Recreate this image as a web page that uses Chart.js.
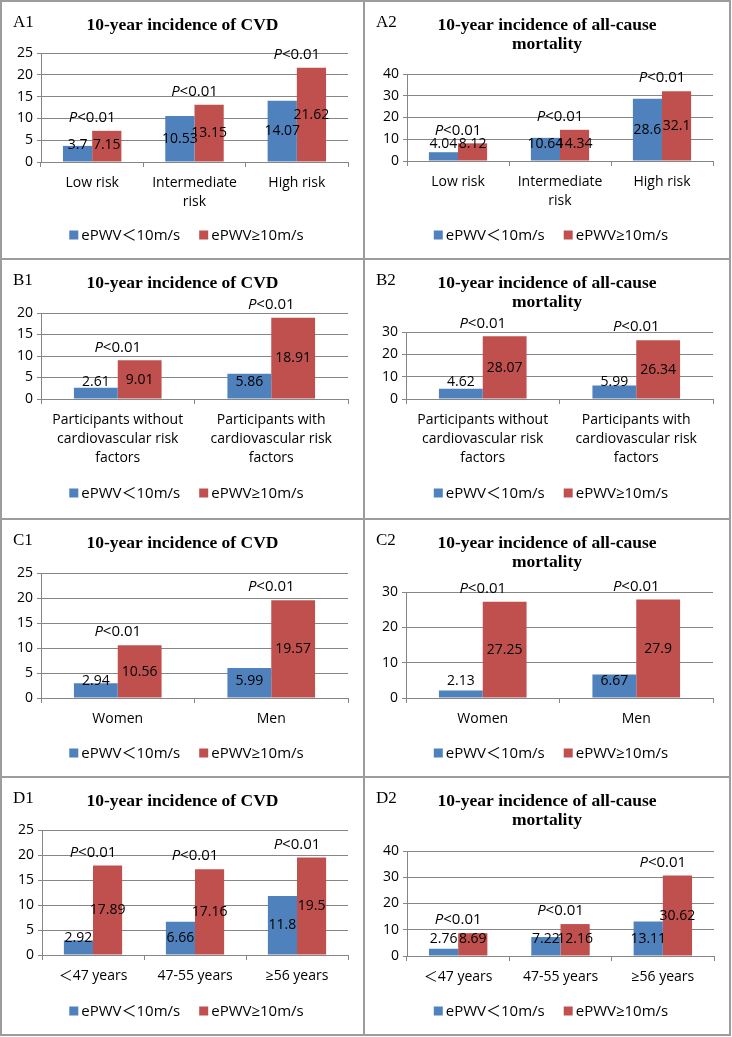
<!DOCTYPE html>
<html>
<head>
<meta charset="utf-8">
<script src="https://cdn.jsdelivr.net/npm/chart.js@4.4.1/dist/chart.umd.min.js"></script>
<style>
  body { margin: 0; background: #fff; }
  #fig { position: relative; width: 732px; height: 1037px; }
  .cell { position: absolute; }
  .line { position: absolute; background: #9c9c9c; }
</style>
</head>
<body>
<div id="fig"></div>
<script>
// series + categories
const seriesNames = ["ePWV＜10m/s", "ePWV≥10m/s"];
const riskGroups = [["Low risk"], ["Intermediate", "risk"], ["High risk"]];
const factorGroups = [
  ["Participants without", "cardiovascular risk", "factors"],
  ["Participants with", "cardiovascular risk", "factors"],
];
const sexGroups = ["Women", "Men"];
const ageGroups = ["＜47 years", "47-55 years", "≥56 years"];

const a1Low = [3.7, 10.53, 14.07];
const a1High = [7.15, 13.15, 21.62];
const a2Low = [4.04, 10.64, 28.6];
const a2High = [8.12, 14.34, 32.1];
const b1Low = [2.61, 5.86];
const b1High = [9.01, 18.91];
const b2Low = [4.62, 5.99];
const b2High = [28.07, 26.34];
const c1Low = [2.94, 5.99];
const c1High = [10.56, 19.57];
const c2Low = [2.13, 6.67];
const c2High = [27.25, 27.9];
const d1Low = [2.92, 6.66, 11.8];
const d1High = [17.89, 17.16, 19.5];
const d2Low = [2.76, 7.22, 13.11];
const d2High = [8.69, 12.16, 30.62];

const cvdTitle = ["10-year incidence of CVD"];
const mortTitle = ["10-year incidence of all-cause", "mortality"];
const pText = "<0.01";

const cvdMax = 25, cvdStep = 5;

const blue = "#4f81bd";
const red = "#c0504d";
const gridColor = "#868686";
const sans = "'Open Sans', 'Noto Sans CJK SC', sans-serif";
const serif = "'Liberation Serif', 'DejaVu Serif', serif";

// layout of the 8 panels (page pixels)
const colL = { x: 2, w: 361 };
const colR = { x: 365, w: 364 };
const rows = [{ y: 2, h: 256 }, { y: 260, h: 256 }, { y: 520, h: 256 }, { y: 778, h: 256 }];

const panels = [
  { tag: "A1", title: cvdTitle, labels: riskGroups, low: a1Low, high: a1High, max: cvdMax, step: cvdStep,
    col: colL, row: rows[0], plot: [41, 348, 53, 162] },
  { tag: "A2", title: mortTitle, labels: riskGroups, low: a2Low, high: a2High, max: 40, step: 10,
    col: colR, row: rows[0], plot: [407, 713, 74, 161] },
  { tag: "B1", title: cvdTitle, labels: factorGroups, low: b1Low, high: b1High, max: 20, step: 5,
    col: colL, row: rows[1], plot: [41, 348, 313, 399] },
  { tag: "B2", title: mortTitle, labels: factorGroups, low: b2Low, high: b2High, max: 30, step: 10,
    col: colR, row: rows[1], plot: [406, 713, 332, 399] },
  { tag: "C1", title: cvdTitle, labels: sexGroups, low: c1Low, high: c1High, max: cvdMax, step: cvdStep,
    col: colL, row: rows[2], plot: [41, 348, 573, 698] },
  { tag: "C2", title: mortTitle, labels: sexGroups, low: c2Low, high: c2High, max: 30, step: 10,
    col: colR, row: rows[2], plot: [406, 713, 592, 698] },
  { tag: "D1", title: cvdTitle, labels: ageGroups, low: d1Low, high: d1High, max: cvdMax, step: cvdStep,
    col: colL, row: rows[3], plot: [42, 348, 830, 955] },
  { tag: "D2", title: mortTitle, labels: ageGroups, low: d2Low, high: d2High, max: 40, step: 10,
    col: colR, row: rows[3], plot: [407, 714, 851, 956] },
];

const fig = document.getElementById("fig");

// frame lines
function addLine(x, y, w, h) {
  const d = document.createElement("div");
  d.className = "line";
  d.style.left = x + "px"; d.style.top = y + "px";
  d.style.width = w + "px"; d.style.height = h + "px";
  fig.appendChild(d);
}
[0, 258, 518, 776, 1034].forEach((y) => addLine(0, y, 731, 2));
[0, 363, 729].forEach((x) => addLine(x, 0, 2, 1036));

// titles, tags, value labels, P values and legend
const panelText = {
  id: "panelText",
  afterDatasetsDraw(chart, args, opts) {
    const ctx = chart.ctx;
    const p = opts.panel;
    const base = chart.scales.y.getPixelForValue(0);
    const lowMeta = chart.getDatasetMeta(0);
    const highMeta = chart.getDatasetMeta(1);
    ctx.save();
    ctx.fillStyle = "#000";
    ctx.textBaseline = "middle";

    ctx.font = "17px " + serif;
    ctx.textAlign = "left";
    ctx.fillText(p.tag, 11, 21);

    ctx.font = "bold 17.5px " + serif;
    ctx.textAlign = "center";
    p.title.forEach((t, i) => ctx.fillText(t, chart.width / 2, 23 + i * 19.5));

    // value labels, centred in the bar but kept clear of the axis
    ctx.font = "14px " + sans;
    [lowMeta, highMeta].forEach((meta, di) => {
      meta.data.forEach((bar, j) => {
        const v = chart.data.datasets[di].data[j];
        const y = Math.min((bar.y + base) / 2, base - 17);
        ctx.fillText(String(v), bar.x, y);
      });
    });

    // P<0.01 above each group
    lowMeta.data.forEach((bar, j) => {
      const other = highMeta.data[j];
      const cx = (bar.x + other.x) / 2;
      const cy = Math.min(bar.y, other.y) - 13;
      ctx.font = "italic 15px " + sans;
      const wP = ctx.measureText("P").width;
      ctx.font = "15px " + sans;
      const wR = ctx.measureText(pText).width;
      const x0 = cx - (wP + wR) / 2;
      ctx.textAlign = "left";
      ctx.font = "italic 15px " + sans;
      ctx.fillText("P", x0, cy);
      ctx.font = "15px " + sans;
      ctx.fillText(pText, x0 + wP, cy);
    });

    // legend
    ctx.font = "15px " + sans;
    ctx.textAlign = "left";
    const box = 9, gap = 3, spacing = 19;
    const widths = chart.data.datasets.map((ds) => box + gap + ctx.measureText(ds.label).width);
    const total = widths.reduce((a, b) => a + b, 0) + spacing * (widths.length - 1);
    let x = chart.width / 2 + 4 - total / 2;
    const ly = 233;
    chart.data.datasets.forEach((ds, i) => {
      ctx.fillStyle = ds.backgroundColor;
      ctx.fillRect(x, ly - box / 2, box, box);
      ctx.fillStyle = "#000";
      ctx.fillText(ds.label, x + box + gap, ly + 1);
      x += widths[i] + spacing;
    });
    ctx.restore();
  },
};

panels.forEach((p) => {
  const cell = document.createElement("div");
  cell.className = "cell";
  cell.style.left = p.col.x + "px";
  cell.style.top = p.row.y + "px";
  const canvas = document.createElement("canvas");
  canvas.width = p.col.w;
  canvas.height = p.row.h;
  cell.appendChild(canvas);
  fig.appendChild(cell);

  const [l, r, t, b] = p.plot;
  const yAxisW = l - p.col.x;
  const xAxisH = p.row.y + p.row.h - b;

  new Chart(canvas.getContext("2d"), {
    type: "bar",
    data: {
      labels: p.labels,
      datasets: [
        { label: seriesNames[0], data: p.low, backgroundColor: blue },
        { label: seriesNames[1], data: p.high, backgroundColor: red },
      ],
    },
    options: {
      responsive: false,
      animation: false,
      events: [],
      categoryPercentage: 0.571,
      barPercentage: 1,
      layout: {
        padding: { top: t - p.row.y, right: p.col.x + p.col.w - r, bottom: 0, left: 0 },
      },
      scales: {
        x: {
          afterFit: (s) => { s.height = xAxisH; },
          grid: { drawOnChartArea: false, drawTicks: true, tickLength: 5, offset: true, color: gridColor },
          border: { display: true, color: gridColor },
          ticks: {
            color: "#000",
            autoSkip: false,
            maxRotation: 0,
            padding: 6,
            font: { family: sans, size: 14, lineHeight: 1.36 },
          },
        },
        y: {
          min: 0,
          max: p.max,
          afterFit: (s) => { s.width = yAxisW; },
          grid: { color: gridColor, tickLength: 4 },
          border: { display: true, color: gridColor },
          ticks: { stepSize: p.step, color: "#000", padding: 4, font: { family: sans, size: 14 } },
        },
      },
      plugins: {
        legend: { display: false },
        title: { display: false },
        tooltip: { enabled: false },
        panelText: { panel: p },
      },
    },
    plugins: [panelText],
  });
});
</script>
</body>
</html>
